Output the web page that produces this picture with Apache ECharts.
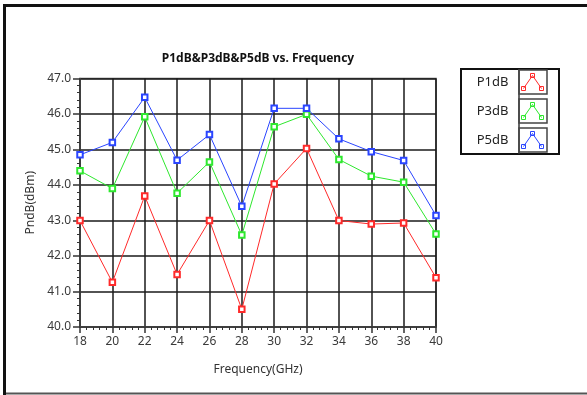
<!DOCTYPE html>
<html>
<head>
<meta charset="utf-8">
<script src="https://cdn.jsdelivr.net/npm/echarts@6/dist/echarts.min.js"></script>
<style>
html,body{margin:0;padding:0;background:#fff;}
#main{width:587px;height:395px;}
</style>
</head>
<body>
<div id="main"></div>
<script>
// frequency points (GHz)
var freq = [18, 20, 22, 24, 26, 28, 30, 32, 34, 36, 38, 40];
// compression points (dBm)
var p1db = [43.0, 41.26, 43.69, 41.48, 43.0, 40.5, 44.03, 45.03, 43.0, 42.9, 42.93, 41.39];
var p3db = [44.4, 43.9, 45.92, 43.77, 44.65, 42.59, 45.64, 45.99, 44.72, 44.25, 44.08, 42.62];
var p5db = [44.85, 45.2, 46.47, 44.7, 45.42, 43.4, 46.16, 46.16, 45.3, 44.94, 44.69, 43.14];
var names = ['P1dB', 'P3dB', 'P5dB'];
var colors = ['#ff2a2a', '#2ee82e', '#2a45ff'];

var myChart = echarts.init(document.getElementById('main'), null, {renderer: 'canvas'});
var font = 'Noto Sans';

function mkSeries(name, vals, color){
  return {
    name: name,
    type: 'line',
    data: freq.map(function(f, i){ return [f, vals[i]]; }),
    symbol: 'emptyRect',
    symbolSize: 5.5,
    lineStyle: {width: 1, color: color},
    itemStyle: {color: color, borderColor: color, borderWidth: 1},
    emphasis: {disabled: true},
    z: 3
  };
}

// little zig-zag icon with squares, like the legend swatches
var iconPath = 'path://M2,16 L11,3 L20,16 M0,14 h4 v4 h-4 Z M9,1 h4 v4 h-4 Z M18,14 h4 v4 h-4 Z';

var option = {
  backgroundColor: '#fff',
  animation: false,
  title: {
    text: 'P1dB&P3dB&P5dB vs. Frequency',
    left: 253, top: 48, textAlign: 'center',
    textStyle: {fontFamily: font, fontSize: 12, fontWeight: 'bold', color: '#111'}
  },
  legend: {
    orient: 'vertical',
    right: 43, top: 73,
    padding: 0,
    align: 'right',
    itemWidth: 22, itemHeight: 18, itemGap: 11,
    selectedMode: false,
    textStyle: {fontFamily: font, fontSize: 13, color: '#222', padding: [0, 8, 0, 0]},
    data: names.map(function(n, i){
      return {name: n, icon: iconPath,
        itemStyle: {color: 'rgba(0,0,0,0)', borderColor: colors[i], borderWidth: 1}};
    })
  },
  grid: {left: 80, right: 151, top: 78.5, bottom: 68, containLabel: false,
    show: true, borderColor: '#555', borderWidth: 1.5, backgroundColor: '#fff'},
  xAxis: {
    type: 'value', min: 18, max: 40, interval: 2,
    name: 'Frequency(GHz)', nameLocation: 'middle', nameGap: 37,
    nameTextStyle: {fontFamily: font, fontSize: 12, color: '#333'},
    axisLine: {show: true, lineStyle: {color: '#444', width: 1.5}},
    axisTick: {show: true, inside: false, length: 6, lineStyle: {color: '#333', width: 1.5}},
    minorTick: {show: true, splitNumber: 5, length: 3, lineStyle: {color: '#333', width: 1}},
    axisLabel: {fontFamily: font, fontSize: 12, color: '#3a3a3a', margin: 9},
    splitLine: {show: true, lineStyle: {color: '#1a1a1a', width: 1.5}}
  },
  yAxis: {
    type: 'value', min: 40, max: 47, interval: 1,
    name: 'PndB(dBm)', nameLocation: 'middle', nameGap: 40,
    nameTextStyle: {fontFamily: font, fontSize: 12, color: '#333'},
    axisLine: {show: true, lineStyle: {color: '#444', width: 1.5}},
    axisTick: {show: true, inside: false, length: 7, lineStyle: {color: '#333', width: 1.5}},
    minorTick: {show: true, splitNumber: 5, length: 3, lineStyle: {color: '#333', width: 1}},
    axisLabel: {fontFamily: font, fontSize: 12, color: '#3a3a3a', margin: 9,
      formatter: function(v){ return v.toFixed(1); }},
    splitLine: {show: true, lineStyle: {color: '#1a1a1a', width: 1.5}}
  },
  series: [
    mkSeries('P1dB', p1db, colors[0]),
    mkSeries('P3dB', p3db, colors[1]),
    mkSeries('P5dB', p5db, colors[2])
  ],
  graphic: [
    // outer frame
    {type: 'rect', shape: {x: 3, y: 4, width: 584, height: 3}, style: {fill: '#111'}, z: 10},
    {type: 'rect', shape: {x: 3, y: 4, width: 3, height: 391}, style: {fill: '#111'}, z: 10},
    {type: 'rect', shape: {x: 6, y: 392.5, width: 581, height: 2}, style: {fill: '#555'}, z: 10},
    // legend box
    {type: 'rect', shape: {x: 461, y: 69, width: 98, height: 85},
      style: {fill: 'none', stroke: '#111', lineWidth: 2}, z: 10},
    {type: 'line', shape: {x1: 519, y1: 69, x2: 519, y2: 154},
      style: {stroke: '#333', lineWidth: 1.5}, z: 10},
    {type: 'rect', shape: {x: 519, y: 70, width: 28, height: 24},
      style: {fill: 'none', stroke: '#444', lineWidth: 1.5}, z: 10},
    {type: 'rect', shape: {x: 519, y: 99, width: 28, height: 24},
      style: {fill: 'none', stroke: '#444', lineWidth: 1.5}, z: 10},
    {type: 'rect', shape: {x: 519, y: 128, width: 28, height: 24},
      style: {fill: 'none', stroke: '#444', lineWidth: 1.5}, z: 10}
  ]
};
myChart.setOption(option);
</script>
</body>
</html>
